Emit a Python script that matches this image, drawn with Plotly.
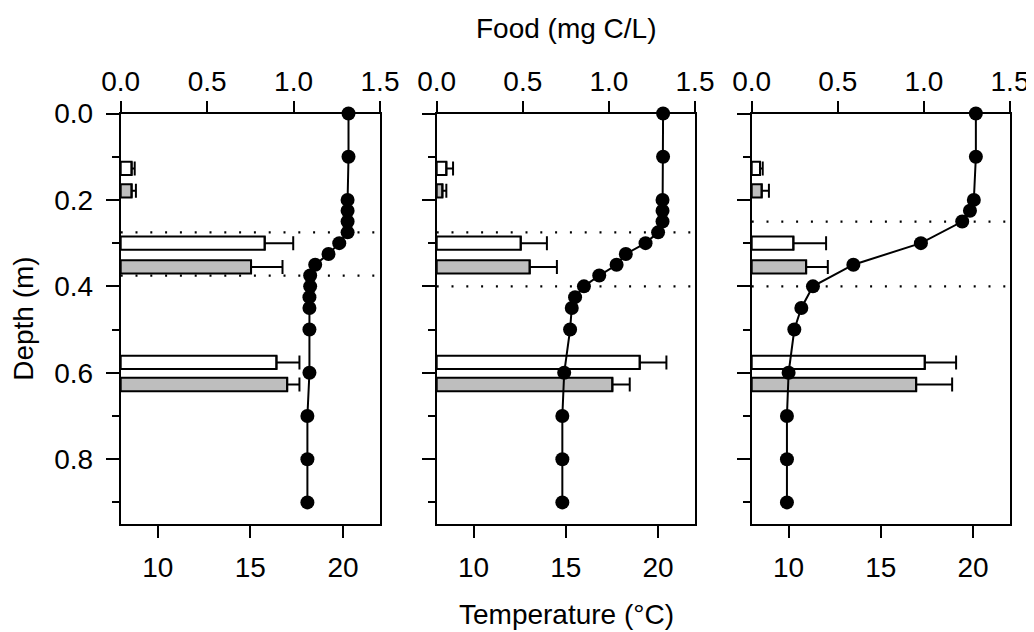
import plotly.graph_objects as go

# ---------------- data ----------------
depth_a = [0, 0.1, 0.2, 0.225, 0.25, 0.275, 0.3, 0.325, 0.35, 0.375, 0.4, 0.425, 0.45, 0.5, 0.6, 0.7, 0.8, 0.9]
temp_1 = [20.3, 20.3, 20.25, 20.25, 20.25, 20.25, 19.8, 19.22, 18.5, 18.23, 18.23, 18.19, 18.19, 18.19, 18.19, 18.08, 18.08, 18.08]
temp_2 = [20.27, 20.27, 20.24, 20.24, 20.24, 20.0, 19.32, 18.25, 17.75, 16.81, 15.98, 15.5, 15.32, 15.23, 14.91, 14.81, 14.81, 14.81]
depth_b = [0, 0.1, 0.2, 0.225, 0.25, 0.3, 0.35, 0.4, 0.45, 0.5, 0.6, 0.7, 0.8, 0.9]
temp_3 = [20.15, 20.15, 20.04, 19.83, 19.41, 17.17, 13.51, 11.32, 10.69, 10.31, 10.0, 9.91, 9.91, 9.91]

bar_depth_white = [0.127, 0.300, 0.576]
bar_depth_grey = [0.179, 0.355, 0.627]

food_white_1 = [0.063, 0.833, 0.901]
food_white_err_1 = [0.018, 0.165, 0.133]
food_grey_1 = [0.063, 0.754, 0.963]
food_grey_err_1 = [0.025, 0.182, 0.071]

food_white_2 = [0.056, 0.488, 1.179]
food_white_err_2 = [0.039, 0.152, 0.155]
food_grey_2 = [0.033, 0.540, 1.020]
food_grey_err_2 = [0.023, 0.158, 0.101]

food_white_3 = [0.048, 0.242, 1.005]
food_white_err_3 = [0.016, 0.190, 0.182]
food_grey_3 = [0.058, 0.316, 0.955]
food_grey_err_3 = [0.042, 0.126, 0.209]

thermo_top = [0.275, 0.275, 0.25]
thermo_bottom = [0.375, 0.4, 0.4]

food_ticks = [0.0, 0.5, 1.0, 1.5]
food_ticklabels = ["0.0", "0.5", "1.0", "1.5"]
temp_ticks = [10, 15, 20]
depth_ticks = [0.0, 0.2, 0.4, 0.6, 0.8]
depth_ticklabels = ["0.0", "0.2", "0.4", "0.6", "0.8"]

temps = [(depth_a, temp_1), (depth_a, temp_2), (depth_b, temp_3)]
foods = [
    (food_white_1, food_white_err_1, food_grey_1, food_grey_err_1),
    (food_white_2, food_white_err_2, food_grey_2, food_grey_err_2),
    (food_white_3, food_white_err_3, food_grey_3, food_grey_err_3),
]

# ---------------- layout params ----------------
# the page body has an 8px margin, so the figure is 8px smaller and all positions shift by 8px
OFF = 8
W, H = 1034 - OFF, 632 - OFF
FONT = "Liberation Sans, Arial, sans-serif"
FS = 28


def px_x(x):
    return (x - OFF) / W


def px_y(y):
    return 1 - (y - OFF) / H


x_domains = [[px_x(120.7), px_x(380)], [px_x(436.7), px_x(695)], [px_x(751.7), px_x(1010)]]
y_domain = [px_y(524), px_y(113.5)]
GREY = "#BEBEBE"

fig = go.Figure()
layout = dict(
    width=W, height=H,
    margin=dict(l=0, r=0, t=0, b=0, autoexpand=False),
    paper_bgcolor="white", plot_bgcolor="white",
    showlegend=False,
    font=dict(family=FONT, size=FS, color="black"),
)

shapes = []
for i in range(3):
    fx = 2 * i + 1          # food axis (base, top)
    tx = 2 * i + 2          # temperature axis (overlay, bottom)
    yi = i + 1
    fxn = "x" if fx == 1 else f"x{fx}"
    txn = f"x{tx}"
    yn = "y" if yi == 1 else f"y{yi}"

    fw, fwe, fg, fge = foods[i]
    bar_common = dict(orientation="h", width=0.031, xaxis=fxn, yaxis=yn,
                      marker_line=dict(color="black", width=2), hoverinfo="skip")
    fig.add_trace(go.Bar(x=fw, y=bar_depth_white, marker_color="white",
                         error_x=dict(type="data", array=fwe, arrayminus=[0] * len(fwe), symmetric=False,
                                      color="black", thickness=2, width=7),
                         **bar_common))
    fig.add_trace(go.Bar(x=fg, y=bar_depth_grey, marker_color=GREY,
                         error_x=dict(type="data", array=fge, arrayminus=[0] * len(fge), symmetric=False,
                                      color="black", thickness=2, width=7),
                         **bar_common))

    d, t = temps[i]
    fig.add_trace(go.Scatter(x=t, y=d, mode="lines+markers", xaxis=txn, yaxis=yn,
                             line=dict(color="black", width=2),
                             marker=dict(color="black", size=14),
                             cliponaxis=False, hoverinfo="skip"))

    for dep in (thermo_top[i], thermo_bottom[i]):
        shapes.append(dict(type="line", xref=f"{fxn} domain", yref=yn, x0=0, x1=1, y0=dep, y1=dep,
                           line=dict(color="black", width=2.2, dash="2px,12.8px"), layer="above"))

    layout[f"xaxis{'' if fx == 1 else fx}"] = dict(
        domain=x_domains[i], anchor=yn, side="top", range=[0, 1.5], automargin=False,
        tickvals=food_ticks, ticktext=food_ticklabels,
        ticks="outside", ticklen=11, tickwidth=2, tickcolor="black",
        showline=True, linewidth=2, linecolor="black", mirror=True,
        showgrid=False, zeroline=False, ticklabelstandoff=-2,
        tickfont=dict(size=FS),
    )
    layout[f"xaxis{tx}"] = dict(
        domain=x_domains[i], anchor=yn, side="bottom", overlaying=fxn, range=[8, 22], automargin=False,
        tickvals=temp_ticks, ticks="outside", ticklen=13, tickwidth=2, tickcolor="black",
        showline=False, showgrid=False, zeroline=False, ticklabelstandoff=5,
        tickfont=dict(size=FS),
    )
    layout[f"yaxis{'' if yi == 1 else yi}"] = dict(
        domain=y_domain, anchor=fxn, range=[0.95, 0], automargin=False,
        tickvals=depth_ticks, ticktext=depth_ticklabels, showticklabels=(i == 0),
        ticks="outside", ticklen=13, tickwidth=2, tickcolor="black",
        minor=dict(dtick=0.1, tick0=0.1, ticks="outside", ticklen=7, tickwidth=2, tickcolor="black"),
        showline=True, linewidth=2, linecolor="black", mirror=True,
        showgrid=False, zeroline=False, ticklabelstandoff=7,
        tickfont=dict(size=FS),
    )

layout["shapes"] = shapes
layout["barmode"] = "overlay"
layout["annotations"] = [
    dict(text="Food (mg C/L)", xref="paper", yref="paper", x=px_x(566), y=px_y(28),
         showarrow=False, xanchor="center", yanchor="middle", font=dict(size=FS)),
    dict(text="Temperature (°C)", xref="paper", yref="paper", x=px_x(566), y=px_y(614),
         showarrow=False, xanchor="center", yanchor="middle", font=dict(size=FS)),
    dict(text="Depth (m)", xref="paper", yref="paper", x=px_x(24), y=px_y(318.8),
         showarrow=False, xanchor="center", yanchor="middle", textangle=-90, font=dict(size=FS)),
]
fig.update_layout(**layout)
fig.write_html("out.html")
